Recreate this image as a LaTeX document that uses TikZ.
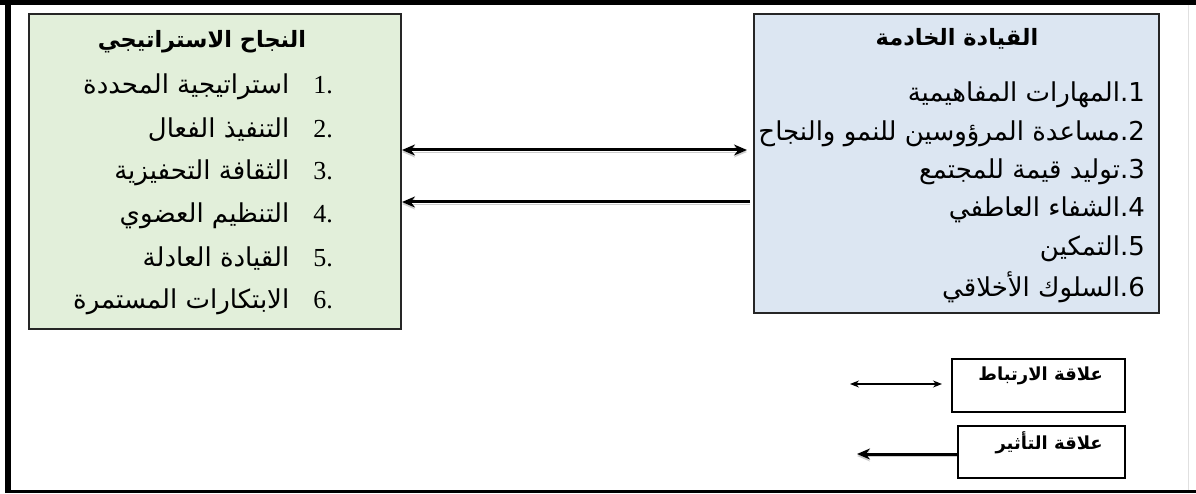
\documentclass[tikz,border=0pt]{standalone}
\usepackage{fontspec}
\newfontfamily\arabicfont[Script=Arabic]{DejaVu Sans}
\newfontfamily\numfont{Liberation Serif}
\TeXXeTstate=1
\usetikzlibrary{arrows.meta,positioning}
\definecolor{successbg}{HTML}{E2EFDA}
\definecolor{servantbg}{HTML}{DCE6F2}

\begin{document}
\begin{tikzpicture}[x=1pt,y=-1pt,
		box/.style={draw=black!85,line width=2pt,inner sep=0pt,anchor=north west},
		head/.style={inner sep=0pt,font=\arabicfont\bfseries\fontsize{22.5}{26}\selectfont},
		item/.style={anchor=east,inner sep=0pt,font=\arabicfont\fontsize{26}{30}\selectfont},
		legendtext/.style={inner sep=0pt,font=\arabicfont\bfseries\fontsize{18}{21}\selectfont},
		link/.style={line width=3pt,preaction={draw=black!20,transform canvas={yshift=-2pt}}},
		bigtip/.tip={Stealth[length=13pt,width=11pt]},
		smalltip/.tip={Stealth[length=9pt,width=7pt]}]
	\useasboundingbox (0,0) rectangle (1196,494);
	\draw[line width=5pt] (0,2.5) -- (1196,2.5);
	\draw[line width=6pt] (8,0) -- (8,493);
	\draw[line width=3pt] (5,491.5) -- (1196,491.5);
	\draw[black!12,line width=1pt] (1188,5) -- (1188,490);
	\node[box,fill=successbg,minimum width=372pt,minimum height=315pt] (success) at (28,13) {};
	\node[box,fill=servantbg,minimum width=405pt,minimum height=299pt] (servant) at (753,13) {};
	\node[head] (successhead) at (202,42) {\beginR النجاح الاستراتيجي\endR};
	\node[head] (servanthead) at (957,39) {\beginR القيادة الخادمة\endR};
	\foreach \n/\txt in {1/استراتيجية المحددة,2/التنفيذ الفعال,3/الثقافة التحفيزية,%
		4/التنظيم العضوي,5/القيادة العادلة,6/الابتكارات المستمرة}{
		\node[item] (success\n) at (333,44+43*\n) {\beginR\mbox{\numfont\n.}\hspace{24pt}\txt\endR};
	}
	\foreach \n/\txt in {1/المهارات المفاهيمية,2/مساعدة المرؤوسين للنمو والنجاح,3/توليد قيمة للمجتمع,%
		4/الشفاء العاطفي,5/التمكين,6/السلوك الأخلاقي}{
		\node[item] (servant\n) at (1145,56.6+38.4*\n) {\beginR\mbox{\n.}\txt\endR};
	}
	\draw[link,bigtip-bigtip,shorten >=6pt] (success.east |- 0,150) -- (servant.west |- 0,150);
	\draw[link,-bigtip,shorten <=3pt] (servant.west |- 0,202) -- (success.east |- 0,202);
	% legend
	\node[box,draw=black,fill=white,minimum width=173pt,minimum height=53pt] (corrbox) at (951,358) {};
	\node[box,draw=black,fill=white,minimum width=167pt,minimum height=52pt] (effbox) at (957,425) {};
	\node[legendtext,anchor=east] (corrtext) at (1103,376) {\beginR علاقة الارتباط\endR};
	\node[legendtext,anchor=east] (efftext) at (1103,443) {\beginR علاقة التأثير\endR};
	\coordinate (corrend) at (850,384);
	\coordinate (effend) at (857,454);
	\draw[line width=1.2pt,smalltip-smalltip] (corrend) -- ([xshift=-9pt]corrbox.west |- corrend);
	\draw[link,-bigtip] (effbox.west |- effend) -- (effend);
\end{tikzpicture}
\end{document}
